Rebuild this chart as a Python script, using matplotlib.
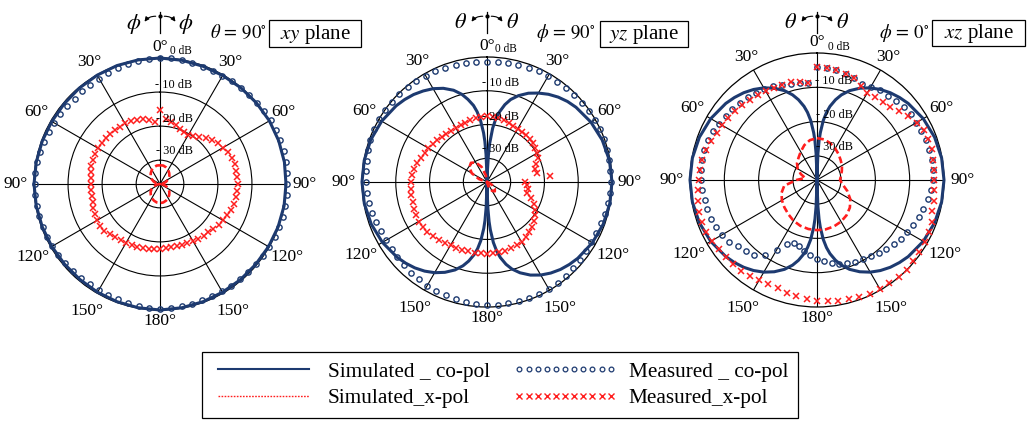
import numpy as np
import matplotlib
matplotlib.use("Agg")
import matplotlib.pyplot as plt
from matplotlib.lines import Line2D
from matplotlib.patches import FancyArrowPatch, Rectangle

plt.rcParams['font.family'] = ['Liberation Serif', 'DejaVu Serif']
plt.rcParams['mathtext.fontset'] = 'stix'

NAVY = '#1d3a70'
RED = '#ff1e1e'
R_MIN = -37.0
W, H = 1030, 421

# ---------------------------------------------------------------- data (dB)
meas_deg = np.arange(0, 360, 5)
xy_sim_deg = np.arange(0, 370, 10)
x_sim_deg = np.arange(0, 370, 10)
dip_sim_deg = [0, 1, 2, 3, 4, 6, 8, 10, 13, 16, 20, 25, 30, 35, 40, 45, 50, 60, 70, 80,
               90, 100, 110, 120, 130, 135, 140, 145, 150, 155, 160, 164, 167, 170, 172,
               174, 176, 177, 178, 179,
               180, 181, 182, 183, 184, 186, 188, 190, 193, 196, 200, 205, 210, 215, 220,
               225, 230, 240, 250, 260, 270, 280, 290, 300, 310, 315, 320, 325, 330, 335,
               340, 344, 347, 350, 352, 354, 356, 357, 358, 359, 360]

# xy plane (theta = 90 deg)
xy_sim_co = [0.0, -0.1, -0.2, -0.2, -0.1, 0.0, 0.1, 0.1, 0.1, 0.0, 0.0, -0.1, -0.2, -0.3,
             -0.3, -0.3, -0.2, -0.1, 0.0, -0.1, -0.2, -0.3, -0.4, -0.4, -0.3, -0.2, -0.1,
             0.0, -0.1, -0.2, -0.3, -0.3, -0.2, -0.1, 0.0, 0.0, 0.0]
xy_sim_x = [-31.5, -31.5, -31.8, -32.2, -32.8, -33.4, -34.2, -35.1, -36.0, -37.0, -36.0,
            -35.1, -34.2, -33.4, -32.8, -32.2, -31.8, -31.5, -31.4, -31.5, -31.8, -32.2,
            -32.8, -33.4, -34.2, -35.1, -36.0, -37.0, -36.0, -35.1, -34.2, -33.4, -32.8,
            -32.2, -31.8, -31.5, -31.5]
xy_meas_co = [0.0, 0.0, -0.1, -0.2, -0.3, -0.3, -0.3, -0.2, -0.1, 0.0, 0.2, 0.4, 0.5, 0.6,
              0.6, 0.6, 0.5, 0.5, 0.4, 0.4, 0.4, 0.3, 0.2, 0.1, 0.0, -0.2, -0.3, -0.4, -0.5,
              -0.6, -0.6, -0.7, -0.7, -0.6, -0.5, -0.4, -0.4, -0.5, -0.7, -0.9, -1.0, -1.1,
              -1.1, -1.0, -0.9, -0.8, -0.7, -0.6, -0.5, -0.4, -0.3, -0.3, -0.2, -0.2, -0.2,
              -0.3, -0.4, -0.5, -0.7, -0.9, -1.1, -1.3, -1.4, -1.5, -1.5, -1.4, -1.3, -1.1,
              -0.9, -0.6, -0.4, -0.2]
xy_meas_x = [-15.4, -17.8, -18.6, -19.2, -19.8, -20.2, -20.5, -19.9, -19.0, -18.0, -17.0,
             -16.2, -15.6, -14.9, -14.5, -14.3, -14.2, -14.2, -14.2, -14.3, -14.3, -14.5,
             -14.8, -15.2, -15.6, -16.0, -16.5, -16.9, -17.1, -17.4, -17.7, -17.9, -18.0,
             -18.1, -18.1, -18.0, -17.9, -17.8, -17.7, -17.5, -17.4, -17.2, -17.1, -16.9,
             -16.6, -16.1, -15.7, -15.5, -15.6, -15.9, -16.2, -16.5, -16.7, -16.8, -16.8,
             -16.6, -16.3, -16.1, -16.0, -16.0, -16.0, -16.1, -16.2, -16.3, -16.4, -16.4,
             -16.4, -16.6, -16.9, -17.2, -18.0, -18.6]

# yz plane (phi = 90 deg)
yz_sim_co = [-37.0, -37.0, -34.0, -29.0, -25.5, -21.0, -18.0, -16.0, -13.5, -11.6, -9.8,
             -8.0, -6.6, -5.3, -4.2, -3.3, -2.6, -1.5, -0.7, -0.2,
             0.0, -0.1, -0.4, -1.0, -1.9, -2.5, -3.2, -4.1, -5.2, -6.6, -8.4, -10.2, -12.0,
             -14.3, -16.3, -19.0, -22.8, -25.3, -29.0, -34.0,
             -37.0, -35.2, -29.2, -25.6, -23.2, -19.6, -17.1, -15.2, -13.0, -11.2, -9.3,
             -7.5, -6.0, -4.8, -3.8, -3.0, -2.3, -1.25, -0.54, -0.13, 0.0, -0.1, -0.4,
             -1.0, -1.9, -2.5, -3.2, -4.1, -5.1, -6.4, -8.1, -10.0, -11.9, -14.0, -16.0,
             -18.7, -22.4, -25.0, -28.8, -34.5, -37.0]
yz_sim_x = [-37.0, -37.0, -37.0, -37.0, -37.0, -37.0, -37.0, -37.0, -37.0, -37.0, -37.0,
            -36.5, -35.3, -34.0, -33.4, -34.0, -35.3, -36.6, -37.0, -37.0, -37.0, -37.0,
            -37.0, -37.0, -37.0, -37.0, -37.0, -37.0, -37.0, -34.5, -31.8, -30.2, -29.6,
            -30.3, -32.2, -35.0, -37.0]
yz_meas_co = [-1.4, -1.3, -1.2, -1.1, -1.0, -0.9, -0.8, -0.7, -0.6, -0.5, -0.4, -0.3, -0.2,
              -0.2, -0.2, -0.3, -0.3, -0.4, -0.4, -0.5, -0.7, -0.9, -1.1, -1.3, -1.4, -1.3,
              -1.1, -0.9, -0.7, -0.5, -0.4, -0.4, -0.5, -0.5, -0.6, -0.6, -0.6, -0.7, -0.9,
              -1.1, -1.3, -1.4, -1.6, -1.8, -2.0, -2.2, -2.4, -2.5, -2.6, -2.4, -2.1, -1.8,
              -1.5, -1.3, -1.3, -1.1, -0.8, -0.5, -0.3, -0.1, 0.0, -0.1, -0.2, -0.3, -0.4,
              -0.5, -0.6, -0.8, -1.0, -1.1, -1.2, -1.3]
yz_meas_x = [-17.6, -17.6, -17.8, -18.0, -18.3, -18.6, -18.8, -19.0, -19.0, -19.0, -19.2,
             -19.5, -20.0, -20.5, -21.5, -22.3, -22.0, -18.3, -25.7, -25.2, -24.8, -24.6,
             -23.0, -21.5, -20.5, -19.8, -19.0, -18.2, -17.5, -17.0, -16.5, -16.3, -16.2,
             -16.0, -15.9, -15.8, -15.7, -15.8, -15.8, -15.8, -15.7, -15.6, -15.5, -15.1,
             -14.7, -14.3, -14.0, -13.8, -13.6, -13.8, -14.0, -14.2, -14.3, -14.4, -14.5,
             -14.8, -15.2, -15.7, -16.2, -16.6, -17.0, -17.4, -17.7, -18.0, -18.3, -18.5,
             -18.6, -18.5, -18.3, -18.0, -17.8, -17.7]

# xz plane (phi = 0 deg)
xz_sim_co = [-37.0, -35.2, -29.2, -25.6, -23.2, -19.6, -17.1, -15.2, -13.0, -11.2, -9.3,
             -7.5, -6.0, -4.8, -3.8, -3.0, -2.3, -1.25, -0.54, -0.13,
             0.0, -0.13, -0.54, -1.25, -2.3, -3.0, -3.8, -4.8, -6.0, -7.5, -9.3, -11.2,
             -13.0, -15.2, -17.1, -19.6, -23.2, -25.6, -29.2, -35.2,
             -37.0, -35.2, -29.2, -25.6, -23.2, -19.6, -17.1, -15.2, -13.0, -11.2, -9.3,
             -7.5, -6.0, -4.8, -3.8, -3.0, -2.3, -1.25, -0.54, -0.13, 0.0, -0.13, -0.54,
             -1.25, -2.3, -3.0, -3.8, -4.8, -6.0, -7.5, -9.3, -11.2, -13.0, -15.2, -17.1,
             -19.6, -23.2, -25.6, -29.2, -35.2, -37.0]
xz_sim_x = [-24.8, -25.0, -25.6, -26.4, -27.2, -28.0, -28.6, -29.3, -29.9, -30.3, -29.4,
            -27.6, -25.8, -24.5, -23.6, -23.0, -22.6, -22.4, -22.4, -22.5, -22.8, -23.3,
            -24.0, -24.6, -25.2, -26.0, -27.3, -31.0, -33.5, -32.0, -30.5, -29.4, -28.6,
            -27.5, -26.2, -25.2, -24.8]
xz_meas_co = [-4.0, -4.3, -4.6, -4.9, -5.4, -6.3, -5.8, -5.1, -4.9, -4.3, -3.8, -3.6, -3.6,
              -3.5, -3.3, -3.2, -3.0, -3.0, -3.3, -3.8, -4.3, -4.9, -5.4, -6.0, -6.6, -7.2,
              -7.8, -8.5, -9.1, -9.8, -10.3, -10.8, -11.2, -11.8, -12.4, -13.2, -14.0,
              -15.0, -16.0, -17.0, -17.4, -16.5, -13.5, -10.5, -8.4, -7.6, -6.9, -5.6,
              -4.9, -4.5, -4.1, -3.9, -3.8, -3.5, -3.2, -3.1, -3.0, -3.0, -3.1, -3.5, -4.1,
              -4.5, -4.8, -5.1, -5.6, -6.0, -6.4, -6.9, -7.6, -7.9, -8.2, -8.5]
xz_meas_x = [-4.0, -4.3, -4.6, -4.9, -5.4, -6.8, -7.7, -7.5, -7.2, -7.0, -5.8, -4.7, -3.5,
             -2.7, -2.5, -2.4, -2.7, -2.9, -2.8, -2.7, -2.4, -2.2, -1.5, -1.0, -0.7, -0.6,
             -0.4, -0.1, 0.0, -0.3, -0.4, -0.5, -0.8, -1.1, -1.3, -1.5, -1.8, -2.1, -2.6,
             -3.0, -3.4, -3.5, -3.3, -3.0, -2.5, -2.4, -2.3, -2.0, -1.6, -1.4, -1.2, -1.4,
             -1.7, -2.1, -2.5, -2.8, -3.1, -3.4, -4.1, -4.8, -5.2, -5.5, -5.8, -6.3, -6.6,
             -6.8, -7.1, -7.3, -7.5, -7.4, -8.0, -8.5]

angle_ticks = list(range(0, 360, 30))
angle_labels = ['0°', '30°', '60°', '90°', '120°', '150°', '180°',
                '150°', '120°', '90°', '60°', '30°']
db_levels = [0, -10, -20, -30]
db_labels = ['0 dB', '- 10 dB', '- 20 dB', '- 30 dB']

panels = [
    dict(cx=160, cy=184, R=126, sim_deg=xy_sim_deg, sim_co=xy_sim_co, sim_x=xy_sim_x,
         meas_co=xy_meas_co, meas_x=xy_meas_x, db_dx=(21, 14),
         sym=r'$\phi$', cut=r'$\theta\,=\,90^{\circ}$', plane=r'$xy$ plane',
         cut_x=238, box=(269, 20, 361, 47)),
    dict(cx=487, cy=182, R=125, sim_deg=dip_sim_deg, sim_co=yz_sim_co, sim_x=yz_sim_x,
         meas_co=yz_meas_co, meas_x=yz_meas_x, db_dx=(19, 14),
         sym=r'$\theta$', cut=r'$\phi\,=\,90^{\circ}$', plane=r'$yz$ plane',
         cut_x=566, box=(600, 21, 688, 47)),
    dict(cx=817, cy=180, R=127, sim_deg=dip_sim_deg, sim_co=xz_sim_co, sim_x=xz_sim_x,
         meas_co=xz_meas_co, meas_x=xz_meas_x, db_dx=(22, 17),
         sym=r'$\theta$', cut=r'$\phi\,=\,0^{\circ}$', plane=r'$xz$ plane',
         cut_x=904, box=(932, 20, 1025, 46)),
]

label_scale = {0: 1.085, 30: 1.12, 60: 1.135, 90: 1.145, 120: 1.165, 150: 1.16, 180: 1.085}
db_dy = [133, 98.5, 64.5, 33.5]


def fx(x):
    return x / W


def fy(y):
    return 1 - y / H


fig = plt.figure(figsize=(W / 100, H / 100), dpi=100)
fig.patch.set_facecolor('white')

for p in panels:
    cx, cy, R = p['cx'], p['cy'], p['R']
    ax = fig.add_axes([fx(cx - R), fy(cy + R), 2 * R / W, 2 * R / H], projection='polar')
    ax.set_theta_zero_location('N')
    ax.set_theta_direction(-1)
    ax.set_rlim(R_MIN, 0)
    ax.set_rticks([-30, -20, -10])
    ax.set_yticklabels([])
    ax.set_thetagrids(angle_ticks, labels=[''] * len(angle_ticks))
    ax.grid(True, color='black', lw=0.8)
    ax.spines['polar'].set_linewidth(0.9)
    ax.set_facecolor('none')

    ax.plot(np.radians(p['sim_deg']), p['sim_co'], color=NAVY, lw=2.2,
            clip_on=False, zorder=4)
    ax.plot(np.radians(x_sim_deg), p['sim_x'], color=RED, lw=1.9,
            dashes=(2.6, 1.3), zorder=5)
    ax.plot(np.radians(meas_deg), p['meas_co'], ls='none', marker='o', ms=3.8,
            mfc='none', mec=NAVY, mew=1.0, clip_on=False, zorder=6)
    ax.plot(np.radians(meas_deg), p['meas_x'], ls='none', marker='x', ms=4.2,
            mec=RED, mew=1.1, clip_on=False, zorder=6)

    # angle labels around the rim
    for a, lab in zip(angle_ticks, angle_labels):
        f = label_scale[min(a, 360 - a)]
        t = np.radians(a)
        ax.text(0.5 + 0.5 * f * np.sin(t), 0.5 + 0.5 * f * np.cos(t), lab,
                transform=ax.transAxes, ha='center', va='center', fontsize=12.5)

    # level labels along the 0 deg spoke
    for i, (lev, lab) in enumerate(zip(db_levels, db_labels)):
        dx = p['db_dx'][0] if i == 0 else p['db_dx'][1]
        fig.text(fx(cx + dx), fy(cy - db_dy[i]), lab, ha='center', va='center',
                 fontsize=8.8 if i else 8.3, zorder=7)

    # rotation sense symbol
    fig.text(fx(cx - 26), fy(24), p['sym'], ha='center', va='center', fontsize=16)
    fig.text(fx(cx + 26), fy(24), p['sym'], ha='center', va='center', fontsize=16)
    fig.add_artist(Line2D([fx(cx), fx(cx)], [fy(12), fy(33)], color='black', lw=0.9))
    fig.add_artist(Line2D([fx(cx)], [fy(16)], marker='o', ms=2, color='black'))
    for sgn in (-1, 1):
        arr = FancyArrowPatch((fx(cx + sgn * 1.5), fy(16.5)), (fx(cx + sgn * 17), fy(24)),
                              transform=fig.transFigure,
                              connectionstyle=f"arc3,rad={-0.35 * sgn}",
                              arrowstyle='-|>,head_length=2.6,head_width=1.3',
                              color='black', lw=0.8)
        fig.add_artist(arr)

    # cut description and plane box
    fig.text(fx(p['cut_x']), fy(33), p['cut'], ha='center', va='center', fontsize=13.5)
    x0, y0, x1, y1 = p['box']
    fig.add_artist(Rectangle((fx(x0), fy(y1)), fx(x1) - fx(x0), fy(y0) - fy(y1),
                             transform=fig.transFigure, fc='white', ec='black', lw=0.9))
    fig.text(fx((x0 + x1) / 2), fy((y0 + y1) / 2 + 0.5), p['plane'], ha='center',
             va='center', fontsize=15)

handles = [
    Line2D([], [], color=NAVY, lw=1.5),
    Line2D([], [], color=RED, lw=1.0, ls=(0, (1.2, 1.0))),
    Line2D([], [], ls='none', marker='o', ms=3.4, mfc='none', mec=NAVY, mew=0.9),
    Line2D([], [], ls='none', marker='x', ms=3.8, mec=RED, mew=1.0),
]
labels = ['Simulated _ co-pol', 'Simulated_x-pol', 'Measured _ co-pol', 'Measured_x-pol']
leg = fig.legend(handles, labels, ncol=2, loc='center',
                 bbox_to_anchor=(fx(500), fy(385)), fontsize=15.3, frameon=True,
                 fancybox=False, edgecolor='black', framealpha=1, handlelength=4.9,
                 handletextpad=0.55, columnspacing=1.1, numpoints=11,
                 borderpad=0.45, labelspacing=0.3)
leg.get_frame().set_linewidth(0.9)

fig.savefig('out.png', dpi=100, facecolor='white')
